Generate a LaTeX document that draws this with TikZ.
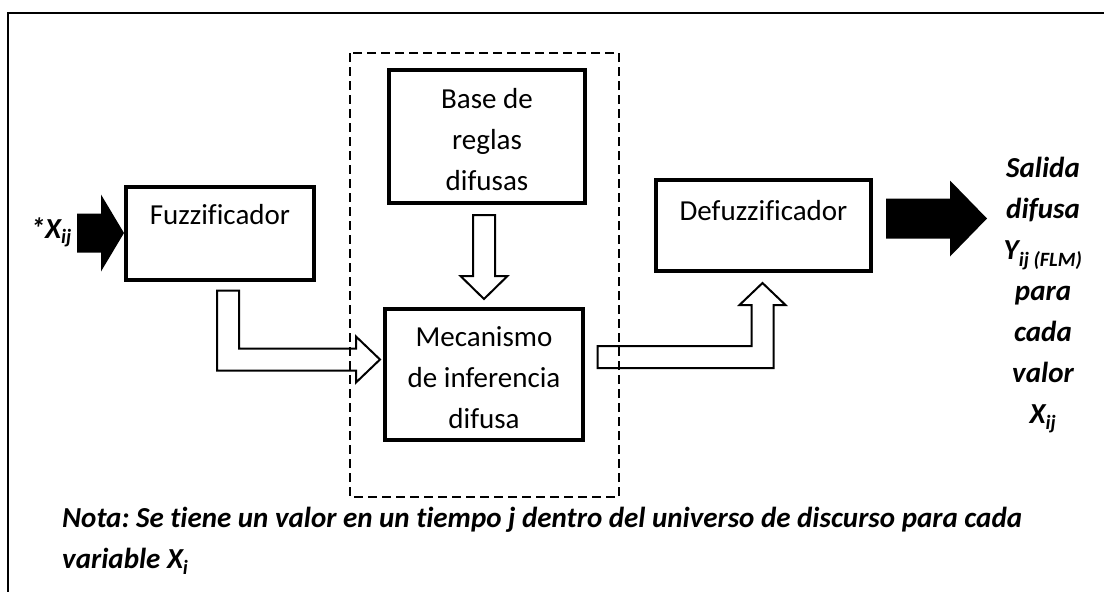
\documentclass[tikz,border=0pt]{standalone}
\usepackage{fontspec}
\setmainfont{Carlito}[Ligatures=NoCommon]
\usetikzlibrary{calc}
\frenchspacing

\begin{document}
\begin{tikzpicture}[x=1pt,y=1pt]
\tikzstyle{every node}+=[inner sep=0pt, font=\fontsize{29}{41}\selectfont]
\tikzstyle{blk}=[draw, line width=4pt, align=center]
\tikzstyle{hollow}=[draw, line width=2pt, fill=white]
\tikzstyle{bi}=[font=\fontsize{29}{41}\selectfont\bfseries\itshape]
\useasboundingbox (0,0) rectangle (1104,-592);
\draw [line width=2.5pt] (8,-13) rectangle (1130,-620);
\node [blk, minimum width=188pt, minimum height=93pt, text height=38pt, text depth=55pt] (fuzz) at (220,-233) {Fuzzificador};
\node [blk, minimum width=196pt, minimum height=133pt] (base) at (487,-136.5) {\rule{0pt}{27pt}Base de\\reglas\\difusas};
\node [blk, minimum width=198pt, minimum height=131pt] (mec) at (484,-374.5) {\rule{0pt}{27pt}Mecanismo\\de inferencia\\difusa};
\node [blk, minimum width=215pt, minimum height=91pt, text height=40pt, text depth=51pt] (defuzz) at (763.5,-225.5) {Defuzzificador};
\node [bi, anchor=base east] (xin) at (72,-238) {*X\textsubscript{ij}};
\node [bi, align=center] (salida) at (1043,-295) {Salida\\difusa\\Y\textsubscript{ij (FLM)}\\para\\cada\\valor\\X\textsubscript{ij}};
\node [bi, align=left, anchor=west] (nota) at (62,-541) {Nota: Se tiene un valor en un tiempo j dentro del universo de discurso para cada\\variable X\textsubscript{i}};
% flechas negras
\fill (fuzz.west) -- ++(-23,38.5) -- ++(0,-19) -- ++(-24,0) -- ++(0,-39) -- ++(24,0) -- ++(0,-19) -- cycle;
\coordinate (outtip) at ($(defuzz.east)+(114,7)$);
\fill (outtip) -- ++(-37,38) -- ++(0,-18) -- ++(-64,0) -- ++(0,-40) -- ++(64,0) -- ++(0,-18) -- cycle;
% flechas huecas
\draw [hollow] ($(mec.north)+(0,8)$) -- ++(-23.5,23) -- ++(12.5,0) -- ++(0,61) -- ++(22,0) -- ++(0,-61) -- ++(12.5,0) -- cycle;
\coordinate (fmtip) at ($(mec.west)+(-3,15)$);
\draw [hollow] (fmtip) -- ++(-24,23) -- ++(0,-12) -- ++(-117,0) -- ++(0,58) -- ++(-22,0) -- ++(0,-80) -- ++(139,0) -- ++(0,-12) -- cycle;
\coordinate (mdtip) at ($(defuzz.south)+(-1,-10)$);
\draw [hollow] (mdtip) -- ++(23,-22) -- ++(-12,0) -- ++(0,-63) -- ++(-176,0) -- ++(0,22) -- ++(154,0) -- ++(0,41) -- ++(-12,0) -- cycle;
% bloque punteado
\draw [line width=2pt, dash pattern=on 9pt off 5pt] (350,-53) rectangle (619,-497);
\end{tikzpicture}
\end{document}
